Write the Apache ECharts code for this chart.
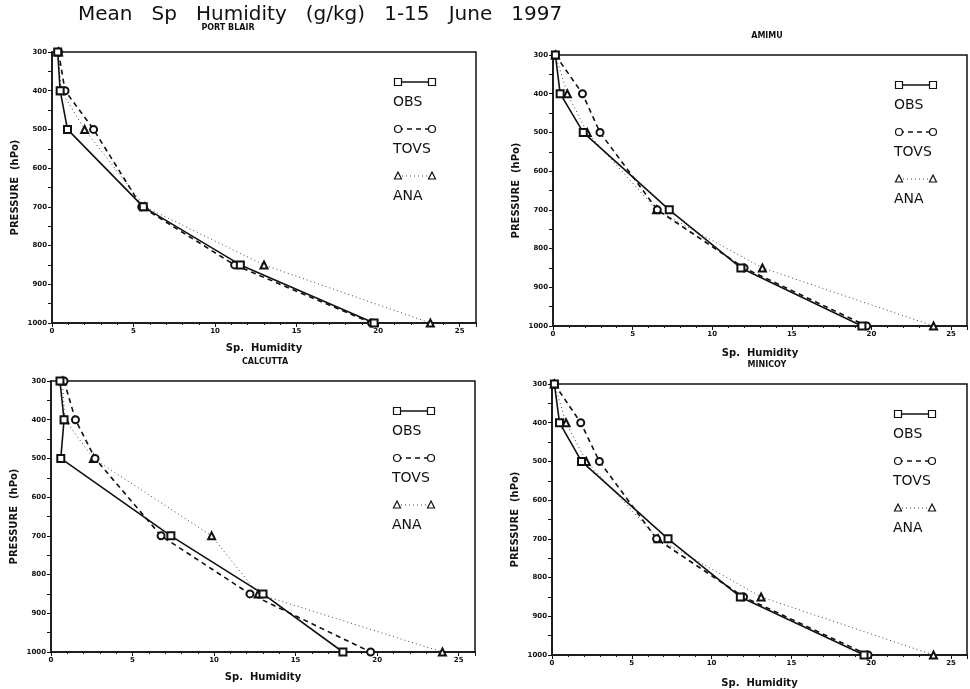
<!DOCTYPE html>
<html>
<head>
<meta charset="utf-8">
<script src="https://cdn.jsdelivr.net/npm/echarts@6/dist/echarts.min.js"></script>
<style>
  html, body { margin: 0; padding: 0; background: #fff; }
  #main { width: 970px; height: 689px; }
</style>
</head>
<body>
<div id="main"></div>
<script>
// pressure levels (hPa), shared by every station
var levels = [300, 400, 500, 700, 850, 1000];

// Port Blair
var portBlairObs = [0.35, 0.5, 0.95, 5.6, 11.55, 19.75];
var portBlairTovs = [0.4, 0.8, 2.55, 5.5, 11.2, 19.6];
var portBlairAna = [0.4, 0.55, 2.0, 5.7, 13.0, 23.2];

// Amimu
var amimuObs = [0.15, 0.45, 1.9, 7.3, 11.8, 19.4];
var amimuTovs = [0.15, 1.85, 2.95, 6.55, 12.0, 19.7];
var amimuAna = [0.15, 0.9, 2.15, 6.5, 13.15, 23.9];

// Calcutta
var calcuttaObs = [0.55, 0.8, 0.6, 7.35, 13.0, 17.9];
var calcuttaTovs = [0.8, 1.5, 2.7, 6.75, 12.2, 19.6];
var calcuttaAna = [0.7, 0.85, 2.6, 9.85, 12.7, 24.0];

// Minicoy
var minicoyObs = [0.15, 0.47, 1.85, 7.27, 11.8, 19.55];
var minicoyTovs = [0.15, 1.8, 2.97, 6.55, 12.0, 19.8];
var minicoyAna = [0.15, 0.88, 2.15, 6.65, 13.1, 23.9];

var stations = ['PORT BLAIR', 'AMIMU', 'CALCUTTA', 'MINICOY'];
var seriesNames = ['OBS', 'TOVS', 'ANA'];
var humidityTicks = [0, 5, 10, 15, 20, 25];

var stationData = [
  [portBlairObs, portBlairTovs, portBlairAna],
  [amimuObs, amimuTovs, amimuAna],
  [calcuttaObs, calcuttaTovs, calcuttaAna],
  [minicoyObs, minicoyTovs, minicoyAna]
];

// panel layout (pixels)
var panels = [
  { left: 52, top: 52, height: 271, titleX: 228, titleY: 24, nameGap: 20 },
  { left: 553, top: 55, height: 271, titleX: 767, titleY: 32, nameGap: 22 },
  { left: 51, top: 381, height: 271, titleX: 265, titleY: 358, nameGap: 20 },
  { left: 552, top: 384, height: 272, titleX: 767, titleY: 361, nameGap: 23 }
];
var plotWidth = 424;

var lineStyles = [
  { type: 'solid', width: 1.6, symbol: 'emptyRect', color: '#111' },
  { type: [5, 4], width: 1.6, symbol: 'emptyCircle', color: '#111' },
  { type: [1, 3], width: 1, symbol: 'emptyTriangle', color: '#444' }
];

function pairs(xs) {
  var out = [];
  for (var i = 0; i < xs.length; i++) {
    out.push([xs[i], levels[i]]);
  }
  return out;
}

var grids = [], xAxes = [], yAxes = [], series = [], titles = [], graphics = [];

titles.push({
  text: 'Mean   Sp   Humidity   (g/kg)   1-15   June   1997',
  left: 78, top: 5, padding: 0,
  textStyle: { fontFamily: 'DejaVu Sans', fontSize: 20, fontWeight: 'normal', color: '#111' }
});

for (var p = 0; p < panels.length; p++) {
  var pn = panels[p];
  grids.push({
    left: pn.left, top: pn.top, width: plotWidth, height: pn.height,
    show: true, borderColor: '#111', borderWidth: 1.5, backgroundColor: 'transparent'
  });
  xAxes.push({
    gridIndex: p, type: 'value', min: 0, max: 26, interval: 5,
    name: 'Sp.  Humidity', nameLocation: 'middle', nameGap: pn.nameGap,
    nameTextStyle: { fontFamily: 'DejaVu Sans', fontSize: 10, fontWeight: 'bold', color: '#111' },
    axisLine: { lineStyle: { color: '#111', width: 1.5 } },
    axisTick: { show: true, length: 4, lineStyle: { color: '#111' } },
    minorTick: { show: true, splitNumber: 5, length: 2, lineStyle: { color: '#111' } },
    splitLine: { show: false },
    axisLabel: {
      fontFamily: 'DejaVu Sans', fontSize: 7, fontWeight: 'bold', color: '#111', margin: 5,
      formatter: function (v) { return humidityTicks.indexOf(v) >= 0 ? String(v) : ''; }
    }
  });
  yAxes.push({
    gridIndex: p, type: 'value', min: 300, max: 1000, interval: 100, inverse: true,
    name: 'PRESSURE  (hPo)', nameLocation: 'middle', nameGap: 32, nameRotate: 90,
    nameTextStyle: { fontFamily: 'DejaVu Sans', fontSize: 10, fontWeight: 'bold', color: '#111' },
    axisLine: { lineStyle: { color: '#111', width: 1.5 } },
    axisTick: { show: true, length: 4, lineStyle: { color: '#111' } },
    minorTick: { show: true, splitNumber: 2, length: 4, lineStyle: { color: '#111' } },
    splitLine: { show: false },
    axisLabel: {
      fontFamily: 'DejaVu Sans', fontSize: 7, fontWeight: 'bold', color: '#111', margin: 5,
      formatter: function (v) { return String(v); }
    }
  });
  titles.push({
    text: stations[p], left: pn.titleX, top: pn.titleY, textAlign: 'center', padding: 0,
    textStyle: { fontFamily: 'DejaVu Sans', fontSize: 8, fontWeight: 'bold', color: '#111' }
  });
  for (var s = 0; s < 3; s++) {
    var ls = lineStyles[s];
    series.push({
      name: seriesNames[s], type: 'line', xAxisIndex: p, yAxisIndex: p,
      data: pairs(stationData[p][s]),
      smooth: false,
      symbol: ls.symbol, symbolSize: 7,
      lineStyle: { color: ls.color, width: ls.width, type: ls.type },
      itemStyle: { color: '#111', borderColor: '#111', borderWidth: 1 },
      z: 3 - s
    });
  }

  // legend: sample line with two markers, label below
  var rowY = [30, 77, 124];
  for (var k = 0; k < 3; k++) {
    var x0 = pn.left + 346, x1 = pn.left + 380, y = pn.top + rowY[k];
    var st = lineStyles[k];
    graphics.push({
      type: 'line', shape: { x1: x0, y1: y, x2: x1, y2: y },
      style: { stroke: st.color, lineWidth: st.width, lineDash: st.type === 'solid' ? null : st.type }
    });
    [x0, x1].forEach(function (cx) {
      if (k === 0) {
        graphics.push({ type: 'rect', shape: { x: cx - 3.5, y: y - 3.5, width: 7, height: 7 },
          style: { fill: '#fff', stroke: '#111', lineWidth: 1.2 } });
      } else if (k === 1) {
        graphics.push({ type: 'circle', shape: { cx: cx, cy: y, r: 3.5 },
          style: { fill: '#fff', stroke: '#111', lineWidth: 1.2 } });
      } else {
        graphics.push({ type: 'polygon', shape: { points: [[cx, y - 4], [cx + 3.5, y + 3], [cx - 3.5, y + 3]] },
          style: { fill: '#fff', stroke: '#111', lineWidth: 1.2 } });
      }
    });
    graphics.push({
      type: 'text', x: pn.left + 341, y: y + 20,
      style: { text: seriesNames[k], fontFamily: 'DejaVu Sans', fontSize: 14, fill: '#111',
        textVerticalAlign: 'middle', verticalAlign: 'middle' }
    });
  }
}

var chart = echarts.init(document.getElementById('main'), null, { renderer: 'canvas' });
chart.setOption({
  backgroundColor: '#fff',
  animation: false,
  title: titles,
  grid: grids,
  xAxis: xAxes,
  yAxis: yAxes,
  series: series,
  graphic: graphics
});
</script>
</body>
</html>
